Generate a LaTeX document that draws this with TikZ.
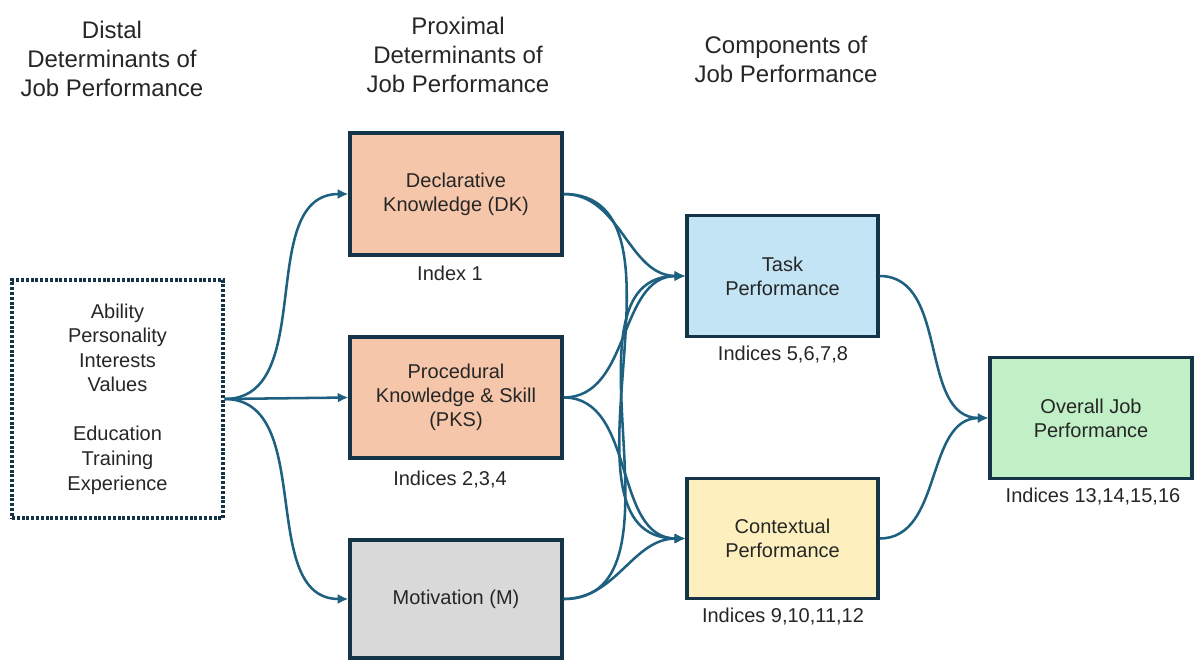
\documentclass[tikz,border=0pt]{standalone}
\usepackage{fontspec}
\setmainfont{Liberation Sans}
\usetikzlibrary{arrows.meta}
\definecolor{arrowc}{RGB}{30,96,128}
\definecolor{borderc}{RGB}{22,52,72}
\definecolor{txtc}{RGB}{38,38,38}
\definecolor{peach}{RGB}{246,198,170}
\definecolor{lblue}{RGB}{194,228,245}
\definecolor{lyellow}{RGB}{253,240,190}
\definecolor{lgreen}{RGB}{193,239,198}
\definecolor{lgray}{RGB}{217,217,217}
\tikzset{
  boxs/.style={draw=borderc, line width=2.4pt, align=center, text=txtc,
    font={\fontsize{15}{18}\selectfont}, inner sep=0pt},
  hdr/.style={align=center, text=txtc, font={\fontsize{18}{21.8}\selectfont}},
  lbl/.style={text=txtc, font={\fontsize{15}{18}\selectfont}},
  conn/.style={draw=arrowc, line width=1.9pt, -{Latex[length=8pt,width=7.5pt]}},
}
\begin{document}
\begin{tikzpicture}[x=0.75pt,y=-0.75pt]
\useasboundingbox (0,0) rectangle (1194,660);
% headers
\node[hdr] (h1) at (112,59) {Distal\\Determinants of\\Job Performance};
\node[hdr] (h2) at (458,54.5) {Proximal\\Determinants of\\Job Performance};
\node[hdr] (h3) at (786,59.5) {Components of\\Job Performance};
% boxes
\node[boxs, draw=borderc, line width=2.4pt, dash pattern=on 2.2pt off 1.4pt, minimum width=211*0.75pt, minimum height=238*0.75pt, font={\fontsize{15}{18.4}\selectfont}] (src) at (117.5,399)
  {Ability\\Personality\\Interests\\Values\\[18.4pt]Education\\Training\\Experience};
\node[boxs, fill=peach, minimum width=212*0.75pt, minimum height=122*0.75pt] (dk) at (456,194) {Declarative\\Knowledge (DK)};
\node[boxs, fill=peach, minimum width=212*0.75pt, minimum height=121*0.75pt] (pks) at (456,397.5) {Procedural\\Knowledge \& Skill\\(PKS)};
\node[boxs, fill=lgray, minimum width=212*0.75pt, minimum height=118*0.75pt] (mot) at (456,599) {Motivation (M)};
\node[boxs, fill=lblue, minimum width=191*0.75pt, minimum height=121*0.75pt] (task) at (782.5,276) {Task\\Performance};
\node[boxs, fill=lyellow, minimum width=191*0.75pt, minimum height=120*0.75pt] (ctx) at (782.5,538.5) {Contextual\\Performance};
\node[boxs, fill=lgreen, minimum width=202*0.75pt, minimum height=121*0.75pt] (ovr) at (1091,418) {Overall Job\\Performance};
% labels
\node[lbl] (l1) at (450,273) {Index 1};
\node[lbl] (l2) at (450,480) {Indices 2,3,4};
\node[lbl] (l3) at (783,355) {Indices 5,6,7,8};
\node[lbl] (l4) at (783,617) {Indices 9,10,11,12};
\node[lbl] (l5) at (1093,497) {Indices 13,14,15,16};
% connectors
\draw[conn] (src.east) to[out=0,in=180] (dk.west);
\draw[conn] (src.east) -- (pks.west);
\draw[conn] (src.east) to[out=0,in=180] (mot.west);
\draw[conn] (dk.east) to[out=0,in=180] (task.west);
\draw[conn] (dk.east) to[out=0,in=180] (ctx.west);
\draw[conn] (pks.east) to[out=0,in=180] (task.west);
\draw[conn] (pks.east) to[out=0,in=180] (ctx.west);
\draw[conn] (mot.east) to[out=0,in=180] (task.west);
\draw[conn] (mot.east) to[out=0,in=180] (ctx.west);
\draw[conn] (task.east) to[out=0,in=180] (ovr.west);
\draw[conn] (ctx.east) to[out=0,in=180] (ovr.west);
\end{tikzpicture}
\end{document}
